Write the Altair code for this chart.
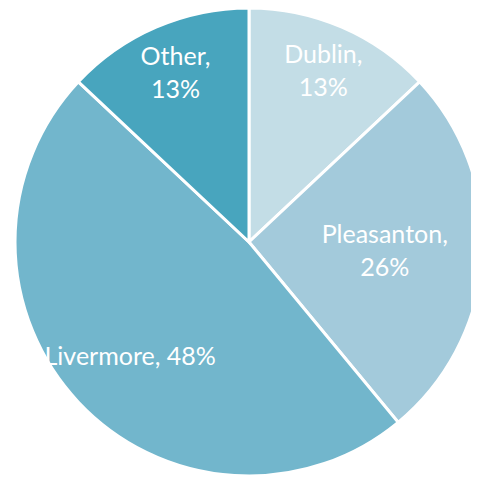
import altair as alt
import pandas as pd

categories = ["Dublin", "Pleasanton", "Livermore", "Other"]
shares = [13, 26, 48, 13]
colors = ["#c3dde6", "#a3cadb", "#72b6cc", "#48a5be"]

df = pd.DataFrame({"category": categories, "share": shares, "order": list(range(len(categories)))})

# label layout (Excel "best fit" style): two-line labels except Livermore
label_radius = {"Dublin": 187, "Pleasanton": 136, "Livermore": 163, "Other": 185}
df["label_r"] = df["category"].map(label_radius)
df["two_line"] = df["category"] != "Livermore"
df["label"] = [
    f"{c},\n{s}%" if t else f"{c}, {s}%" for c, s, t in zip(df["category"], df["share"], df["two_line"])
]

cx, cy, R = 241, 234, 234

pie = alt.Chart(df).mark_arc(outerRadius=R, stroke="white", strokeWidth=3).encode(
    theta=alt.Theta("share:Q", stack=True),
    order=alt.Order("order:Q"),
    x=alt.value(cx),
    y=alt.value(cy),
    color=alt.Color("category:N", scale=alt.Scale(domain=categories, range=colors), legend=None),
)

text_base = alt.Chart(df).transform_window(
    cum="sum(share)", sort=[alt.SortField("order")], frame=[None, 0]
).transform_joinaggregate(
    total="sum(share)"
).transform_calculate(
    mid="2*PI*(datum.cum - datum.share/2)/datum.total"
).encode(
    x=alt.value(cx),
    y=alt.value(cy),
    theta=alt.Theta("mid:Q", scale=None),
    radius=alt.Radius("label_r:Q", scale=None),
    text="label:N",
)

text_style = dict(font="Lato", fontSize=25, color="white", align="center", baseline="middle",
                  lineBreak="\n", lineHeight=33)

text_two = text_base.transform_filter("datum.two_line").mark_text(dy=-15.5, **text_style)
text_one = text_base.transform_filter("!datum.two_line").mark_text(dy=3, **text_style)

chart = (pie + text_two + text_one).properties(
    width=463, height=470, padding=0, autosize=alt.AutoSizeParams(type="none")
).configure_view(stroke=None)

chart.save("out.html", embed_options={"renderer": "svg", "actions": False})
